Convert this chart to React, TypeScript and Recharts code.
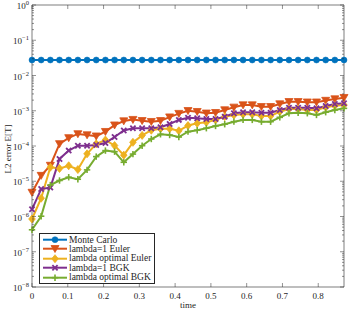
import React from "react";
import { LineChart, Line, XAxis, YAxis, Legend, Label } from "recharts";

const FONT = "'Liberation Serif', 'DejaVu Serif', serif";
const INK = "#262626";

// time grid (35 steps)
const times = [
  0, 0.0256, 0.0513, 0.0769, 0.1026, 0.1282, 0.1539, 0.1795, 0.2052, 0.2308,
  0.2565, 0.2821, 0.3078, 0.3334, 0.3591, 0.3847, 0.4104, 0.436, 0.4617, 0.4873,
  0.513, 0.5386, 0.5643, 0.5899, 0.6156, 0.6412, 0.6669, 0.6925, 0.7182, 0.7438,
  0.7695, 0.7951, 0.8208, 0.8464, 0.872,
];

const monteCarlo = [
  0.0275, 0.0275, 0.0275, 0.0275, 0.0275, 0.0275, 0.0275, 0.0275, 0.0275, 0.0275,
  0.0275, 0.0275, 0.0275, 0.0275, 0.0275, 0.0275, 0.0275, 0.0275, 0.0275, 0.0275,
  0.0275, 0.0275, 0.0275, 0.0275, 0.0275, 0.0275, 0.0275, 0.0275, 0.0275, 0.0275,
  0.0275, 0.0275, 0.0275, 0.0275, 0.0275,
];

const euler1 = [
  4.8e-6, 1.45e-5, 2.8e-5, 1.15e-4, 1.7e-4, 2.2e-4, 2.05e-4, 1.9e-4, 2.55e-4, 3.9e-4,
  5.1e-4, 5.6e-4, 5.2e-4, 4.9e-4, 5.2e-4, 6.6e-4, 8.3e-4, 1.0e-3, 9.4e-4, 8.5e-4,
  8.8e-4, 1.05e-3, 1.25e-3, 1.45e-3, 1.45e-3, 1.3e-3, 1.3e-3, 1.55e-3, 1.8e-3, 1.8e-3,
  1.75e-3, 1.75e-3, 1.95e-3, 2.15e-3, 2.35e-3,
];

const eulerOpt = [
  8.5e-7, 3.3e-6, 2.5e-5, 2.3e-5, 2.75e-5, 2.15e-5, 6.0e-5, 1.15e-4, 1.48e-4, 1.03e-4,
  5.5e-5, 1.27e-4, 2.0e-4, 2.8e-4, 3.1e-4, 3.1e-4, 2.7e-4, 3.8e-4, 4.4e-4, 4.7e-4,
  5.5e-4, 6.8e-4, 7.6e-4, 7.9e-4, 7.9e-4, 7.1e-4, 7.1e-4, 9.4e-4, 1.12e-3, 1.12e-3,
  1.05e-3, 1.05e-3, 1.25e-3, 1.38e-3, 1.45e-3,
];

const bgk1 = [
  1.6e-6, 6.0e-6, 6.6e-6, 4.3e-5, 7.4e-5, 1.02e-4, 1.02e-4, 1.07e-4, 1.22e-4, 1.8e-4,
  2.75e-4, 3.2e-4, 3.2e-4, 3.2e-4, 3.4e-4, 4.2e-4, 5.5e-4, 6.3e-4, 6.1e-4, 5.85e-4,
  5.85e-4, 6.8e-4, 8.5e-4, 9.1e-4, 9.1e-4, 8.8e-4, 8.8e-4, 1.05e-3, 1.22e-3, 1.22e-3,
  1.22e-3, 1.17e-3, 1.36e-3, 1.55e-3, 1.63e-3,
];

const bgkOpt = [
  4.2e-7, 1.02e-6, 7.8e-6, 1.05e-5, 1.3e-5, 1.14e-5, 2.1e-5, 5.0e-5, 7.4e-5, 6.9e-5,
  3.45e-5, 5.9e-5, 1.02e-4, 1.58e-4, 2.15e-4, 2.05e-4, 1.8e-4, 2.55e-4, 2.8e-4, 3.2e-4,
  3.7e-4, 4.15e-4, 4.9e-4, 5.5e-4, 5.5e-4, 4.9e-4, 4.9e-4, 6.5e-4, 8.5e-4, 8.8e-4,
  8.5e-4, 7.6e-4, 9.1e-4, 1.05e-3, 1.17e-3,
];

const xTicks = [0, 0.1, 0.2, 0.3, 0.4, 0.5, 0.6, 0.7, 0.8];
const yDecades = [-8, -7, -6, -5, -4, -3, -2, -1, 0];
const yMinorSteps = [2, 3, 4, 5, 6, 7, 8, 9];

const series = [
  { key: "mc", name: "Monte Carlo", color: "#0072BD", marker: "circle" },
  { key: "euler1", name: "lambda=1 Euler", color: "#D95319", marker: "triangle" },
  { key: "eulerOpt", name: "lambda optimal Euler", color: "#EDB120", marker: "diamond" },
  { key: "bgk1", name: "lambda=1 BGK", color: "#7E2F8E", marker: "x" },
  { key: "bgkOpt", name: "lambda optimal BGK", color: "#77AC30", marker: "plus" },
];

const rows = times.map((t, i) => ({
  t,
  mc: monteCarlo[i],
  euler1: euler1[i],
  eulerOpt: eulerOpt[i],
  bgk1: bgk1[i],
  bgkOpt: bgkOpt[i],
}));

const yTicks = [
  ...yDecades.map((d) => Math.pow(10, d)),
  ...yDecades.slice(0, -1).flatMap((d) => yMinorSteps.map((m) => m * Math.pow(10, d))),
].sort((a, b) => a - b);

const GAP = 3;

function isMajor(v: number) {
  const l = Math.log10(v);
  return Math.abs(l - Math.round(l)) < 1e-6;
}

function Marker({ kind, x, y, color }: { kind: string; x: number; y: number; color: string }) {
  if (x == null || y == null) return null;
  switch (kind) {
    case "circle":
      return <circle cx={x} cy={y} r={3} fill={color} stroke={color} strokeWidth={0.5} />;
    case "triangle":
      return (
        <path
          d={`M${x - 4},${y - 3.2}L${x + 4},${y - 3.2}L${x},${y + 3.8}Z`}
          fill={color}
          stroke={color}
          strokeWidth={0.8}
          strokeLinejoin="round"
        />
      );
    case "diamond":
      return (
        <path
          d={`M${x},${y - 4}L${x + 3.3},${y}L${x},${y + 4}L${x - 3.3},${y}Z`}
          fill={color}
          stroke={color}
          strokeWidth={0.8}
        />
      );
    case "x":
      return (
        <g stroke={color} strokeWidth={1.8}>
          <line x1={x - 2.6} y1={y - 2.6} x2={x + 2.6} y2={y + 2.6} />
          <line x1={x - 2.6} y1={y + 2.6} x2={x + 2.6} y2={y - 2.6} />
        </g>
      );
    default:
      return (
        <g stroke={color} strokeWidth={1.6}>
          <line x1={x - 3.2} y1={y} x2={x + 3.2} y2={y} />
          <line x1={x} y1={y - 3.2} x2={x} y2={y + 3.2} />
        </g>
      );
  }
}

function LeftTick(p: any) {
  const v = p.payload.value;
  const major = isMajor(v);
  const exp = Math.round(Math.log10(v));
  const ax = p.x + GAP;
  return (
    <g>
      <line x1={ax} x2={ax + (major ? 4 : 2)} y1={p.y} y2={p.y} stroke={INK} strokeWidth={0.5} />
      {major && (
        <text x={p.x} y={p.y + 4} textAnchor="end" fontFamily={FONT} fontSize={9} fill={INK}>
          10
          <tspan dy={-4} fontSize={6.5}>
            {exp === 0 ? "0" : `\u2212${-exp}`}
          </tspan>
        </text>
      )}
    </g>
  );
}

function RightTick(p: any) {
  const major = isMajor(p.payload.value);
  const ax = p.x - GAP;
  return <line x1={ax} x2={ax - (major ? 4 : 2)} y1={p.y} y2={p.y} stroke={INK} strokeWidth={0.5} />;
}

function BottomTick(p: any) {
  const ay = p.y - GAP;
  return (
    <g>
      <line x1={p.x} x2={p.x} y1={ay} y2={ay - 4} stroke={INK} strokeWidth={0.5} />
      <text x={p.x} y={ay + 11.5} textAnchor="middle" fontFamily={FONT} fontSize={9} fill={INK}>
        {String(p.payload.value)}
      </text>
    </g>
  );
}

function TopTick(p: any) {
  const ay = p.y + GAP;
  return <line x1={p.x} x2={p.x} y1={ay} y2={ay + 4} stroke={INK} strokeWidth={0.5} />;
}

function LegendBox() {
  return (
    <div
      style={{
        border: `0.8px solid ${INK}`,
        background: "#fff",
        padding: "1px 3px 1px 2px",
        fontFamily: FONT,
        fontSize: 9.5,
        color: INK,
      }}
    >
      {series.map((s) => (
        <div key={s.key} style={{ display: "flex", alignItems: "center", height: 9.4, whiteSpace: "nowrap" }}>
          <svg width={26} height={9.4} style={{ display: "block" }}>
            <line x1={1} x2={25} y1={4.7} y2={4.7} stroke={s.color} strokeWidth={2} />
            <Marker kind={s.marker} x={13} y={4.7} color={s.color} />
          </svg>
          <span style={{ marginLeft: 1 }}>{s.name}</span>
        </div>
      ))}
    </div>
  );
}

export default function App() {
  return (
    <div style={{ position: "absolute", left: 0, top: 0 }}>
      <LineChart width={349} height={310} data={rows} margin={{ top: 4, right: 4, bottom: 0, left: 0 }}>
        <XAxis
          xAxisId="bottom"
          dataKey="t"
          type="number"
          domain={[0, 0.872]}
          ticks={xTicks}
          interval={0}
          height={23}
          tickSize={0}
          tickMargin={GAP}
          tickLine={false}
          axisLine={{ stroke: INK, strokeWidth: 0.6 }}
          tick={(p: any) => <BottomTick {...p} />}
        >
          <Label
            content={({ viewBox }: any) => (
              <text
                x={viewBox.x + viewBox.width / 2}
                y={viewBox.y + viewBox.height - 2.5}
                textAnchor="middle"
                fontFamily={FONT}
                fontSize={9}
                fill={INK}
              >
                time
              </text>
            )}
          />
        </XAxis>
        <XAxis
          xAxisId="top"
          orientation="top"
          dataKey="t"
          type="number"
          domain={[0, 0.872]}
          ticks={xTicks}
          interval={0}
          height={1}
          tickSize={0}
          tickMargin={GAP}
          tickLine={false}
          axisLine={{ stroke: INK, strokeWidth: 0.6 }}
          tick={(p: any) => <TopTick {...p} />}
        />
        <YAxis
          yAxisId="left"
          type="number"
          scale="log"
          domain={[1e-8, 1]}
          ticks={yTicks}
          interval={0}
          width={32}
          tickSize={0}
          tickMargin={GAP}
          tickLine={false}
          allowDataOverflow
          axisLine={{ stroke: INK, strokeWidth: 0.6 }}
          tick={(p: any) => <LeftTick {...p} />}
        >
          <Label
            content={({ viewBox }: any) => {
              const cx = viewBox.x + 11;
              const cy = viewBox.y + viewBox.height / 2 + 3;
              return (
                <text
                  x={cx}
                  y={cy}
                  transform={`rotate(-90 ${cx} ${cy})`}
                  textAnchor="middle"
                  fontFamily={FONT}
                  fontSize={9}
                  fill={INK}
                >
                  L2 error E[T]
                </text>
              );
            }}
          />
        </YAxis>
        <YAxis
          yAxisId="right"
          orientation="right"
          type="number"
          scale="log"
          domain={[1e-8, 1]}
          ticks={yTicks}
          interval={0}
          width={1}
          tickSize={0}
          tickMargin={GAP}
          tickLine={false}
          allowDataOverflow
          axisLine={{ stroke: INK, strokeWidth: 0.6 }}
          tick={(p: any) => <RightTick {...p} />}
        />
        {series.map((s) => (
          <Line
            key={s.key}
            dataKey={s.key}
            name={s.name}
            xAxisId={s.key === "mc" ? "top" : "bottom"}
            yAxisId={s.key === "mc" ? "right" : "left"}
            stroke={s.color}
            strokeWidth={2}
            isAnimationActive={false}
            activeDot={false}
            dot={(p: any) => (
              <Marker key={`${s.key}-${p.index}`} kind={s.marker} x={p.cx} y={p.cy} color={s.color} />
            )}
          />
        ))}
        <Legend
          layout="vertical"
          align="center"
          verticalAlign="middle"
          wrapperStyle={{ left: 39, top: 233, width: "auto" }}
          content={() => <LegendBox />}
        />
      </LineChart>
    </div>
  );
}
